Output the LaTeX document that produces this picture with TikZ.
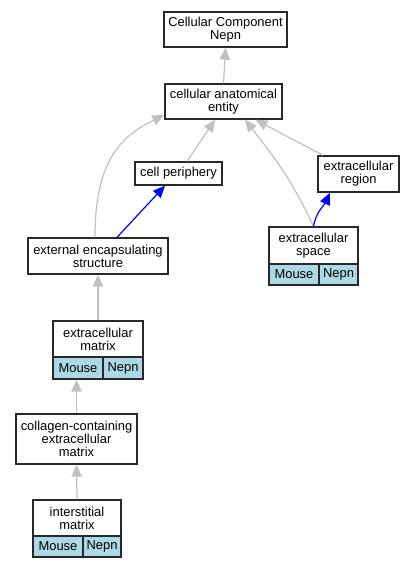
\documentclass[tikz,border=0pt]{standalone}
\usepackage{fontspec}
\setmainfont{Liberation Sans}
\usetikzlibrary{arrows.meta,calc}
\definecolor{edgegray}{RGB}{192,192,192}
\definecolor{cellblue}{RGB}{173,216,230}
\definecolor{boxline}{RGB}{40,40,40}
\begin{document}
\begin{tikzpicture}[x=0.75pt,y=-0.75pt,
  box/.style={draw=boxline,line width=1pt,rectangle,inner sep=0pt,align=center,fill=white,
    font=\fontsize{9.7}{9.9}\selectfont},
  cell/.style={box,fill=cellblue},
  isa/.style={draw=edgegray,line width=0.9pt,-{Triangle[length=9pt,width=7.8pt]}},
  partof/.style={draw=blue,line width=0.9pt,-{Triangle[length=9pt,width=7.8pt]}}]
\useasboundingbox (0,0) rectangle (415,568);
% nodes
\node[box,minimum width=123*0.75pt,minimum height=35*0.75pt] (ccn) at (225.5,29.5) {Cellular Component\\Nepn};
\node[box,minimum width=117*0.75pt,minimum height=35*0.75pt] (cae) at (223.5,101.5) {cellular anatomical\\entity};
\node[box,minimum width=87*0.75pt,minimum height=23*0.75pt] (cp) at (178.5,173.5) {cell periphery};
\node[box,minimum width=81*0.75pt,minimum height=36*0.75pt] (er) at (358.5,174) {extracellular\\region};
\node[box,minimum width=140*0.75pt,minimum height=36*0.75pt] (ees) at (98,256) {external encapsulating\\structure};
\node[box,minimum width=89*0.75pt,minimum height=37*0.75pt] (es) at (313.5,245.5) {extracellular\\space};
\node[cell,minimum width=50*0.75pt,minimum height=21*0.75pt] (esM) at (294,274.5) {Mouse};
\node[cell,minimum width=39*0.75pt,minimum height=21*0.75pt] (esN) at (338.5,274.5) {Nepn};
\node[box,minimum width=90*0.75pt,minimum height=36*0.75pt] (ecm) at (98,339) {extracellular\\matrix};
\node[cell,minimum width=50*0.75pt,minimum height=22*0.75pt] (ecmM) at (78,368) {Mouse};
\node[cell,minimum width=40*0.75pt,minimum height=22*0.75pt] (ecmN) at (123,368) {Nepn};
\node[box,minimum width=121*0.75pt,minimum height=50*0.75pt] (col) at (76.5,439) {collagen-containing\\extracellular\\matrix};
\node[box,minimum width=88*0.75pt,minimum height=36*0.75pt] (im) at (77,518) {interstitial\\matrix};
\node[cell,minimum width=50*0.75pt,minimum height=21*0.75pt] (imM) at (58,546.5) {Mouse};
\node[cell,minimum width=38*0.75pt,minimum height=21*0.75pt] (imN) at (102,546.5) {Nepn};
% edges
\draw[isa] (cae.north) -- (ccn.south);
\draw[isa] ($(cp.north)+(8.5,0)$) -- ($(cae.south)+(-8.5,0)$);
\draw[isa] ($(ees.north)+(-3,0)$) .. controls +(0,-75) and +(-45,22) .. ($(cae.west)+(0,13.5)$);
\draw[isa] (es.north) to[out=115,in=-52] ($(cae.south)+(21.5,0)$);
\draw[isa] ($(er.north)+(-35.5,0)$) -- ($(cae.south)+(32,0)$);
\draw[partof] ($(ees.north)+(19,0)$) -- ($(cp.south)+(-13.5,0)$);
\draw[partof] (es.north) to[out=80,in=-115] ($(er.south)+(-28.5,0)$);
\draw[isa] (ecm.north) -- (ees.south);
\draw[isa] (col.north) -- (col.north |- ecmM.south);
\draw[isa] (im.north) -- (col.south);
\end{tikzpicture}
\end{document}
